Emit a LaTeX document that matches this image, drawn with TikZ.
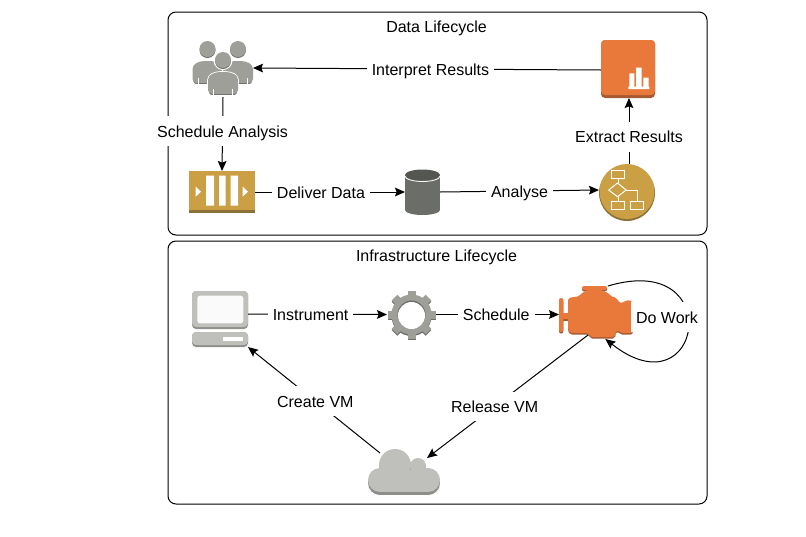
\documentclass[tikz,border=0pt]{standalone}
\usepackage{fontspec}
\setmainfont{Liberation Sans}
\usetikzlibrary{arrows.meta}
\definecolor{awsOrange}{HTML}{E8793A}
\definecolor{awsOrangeDark}{HTML}{A55A30}
\definecolor{awsGold}{HTML}{CBA045}
\definecolor{awsGoldDark}{HTML}{8C7238}
\definecolor{awsGrey}{HTML}{9F9F9A}
\definecolor{awsGreyDark}{HTML}{6D6E6A}
\definecolor{awsLight}{HTML}{BFC0BB}
\definecolor{awsLightDark}{HTML}{8E8F8B}
\definecolor{awsDisk}{HTML}{6B6D68}
\definecolor{awsDiskTop}{HTML}{545651}
\tikzset{
    flow/.style = {line width = 0.75pt, -{Stealth[length = 7.5pt, width = 6.5pt, inset = 1.2pt]}},
    lbl/.style = {fill = white, inner xsep = 3.75pt, inner ysep = 0pt, minimum height = 22pt, text height = 9pt, text depth = 0pt, font = \fontsize{12}{14}\selectfont},
    icon/.style = {inner sep = 0pt, outer sep = 0pt},
    lifecycle/.style = {draw, line width = 0.75pt, rounded corners = 6pt},
    person/.pic = {
        \fill[white] (0,0.5) circle[radius = 9.5];
        \fill[awsGreyDark] (0,1) circle[radius = 8];
        \fill[awsGrey] (0,0) circle[radius = 8];
        \draw[white, line width = 1.2pt, fill = awsGreyDark, rounded corners = 3pt] (-15,36) -- (-15,16) -- (-7,12) -- (7,12) -- (15,16) -- (15,36) -- cycle;
        \fill[awsGrey, rounded corners = 3pt] (-15,34) -- (-15,16) -- (-7,12) -- (7,12) -- (15,16) -- (15,34) -- cycle;
        \draw[white, line width = 0.75pt] (-9.5,29) -- (-9.5,36) (9.5,29) -- (9.5,36);
    }
}
\begin{document}
\begin{tikzpicture}[x = 0.75pt, y = -0.75pt]
    \useasboundingbox (0,0) rectangle (806,536);
    \draw[lifecycle] (168,12) rectangle (707,235);
    \draw[lifecycle] (168,241) rectangle (707,504);
    \node[lbl, fill = none] (dataTitle) at (436.5,26) {Data Lifecycle};
    \node[lbl, fill = none] (infraTitle) at (436.5,255) {Infrastructure Lifecycle};

    \node[icon, minimum width = 45pt, minimum height = 42pt] (users) at (223,69) {};
    \node[icon, minimum width = 49.5pt, minimum height = 31.5pt] (queue) at (222,192) {};
    \node[icon, minimum width = 26.25pt, minimum height = 34.5pt] (store) at (422.5,192) {};
    \node[icon, minimum width = 42pt, minimum height = 42pt] (workflow) at (627,192) {};
    \node[icon, minimum width = 40.5pt, minimum height = 43.5pt] (report) at (628,69) {};
    \node[icon, minimum width = 42pt, minimum height = 42pt] (computer) at (220,319) {};
    \node[icon, minimum width = 36.75pt, minimum height = 36.75pt] (gear) at (411.5,314.5) {};
    \node[icon, minimum width = 55.5pt, minimum height = 39.75pt] (engine) at (596,312.5) {};
    \node[icon, minimum width = 54pt, minimum height = 35.25pt] (cloud) at (404,471.5) {};

    \pic at (207.5,49) {person};
    \pic at (238,49) {person};
    \pic at (223,60) {person};

    \fill[awsGoldDark] (189,171) rectangle (255,213);
    \fill[awsGold] (189,171) rectangle (255,210);
    \fill[white] (206,175.7) rectangle (214,205.7) (219,175.7) rectangle (225.7,205.7) (230.7,175.7) rectangle (238,205.7);
    \fill[white] (195.7,186.7) -- (201,191.7) -- (195.7,196.7) -- cycle (242.7,186.7) -- (248,191.7) -- (242.7,196.7) -- cycle;

    \fill[awsDisk] (405,175) rectangle (440,210);
    \fill[awsDisk] (422.5,210) ellipse[x radius = 17.5, y radius = 5];
    \fill[awsDiskTop] (422.5,175) ellipse[x radius = 17.5, y radius = 5.5];
    \draw[white, line width = 0.6pt] (405,176) arc[start angle = 180, end angle = 360, x radius = 17.5, y radius = -5.5];

    \fill[awsGoldDark] (627,193) circle[radius = 28];
    \fill[awsGold] (627,191.5) circle[radius = 27.5];
    \begin{scope}[line width = 0.75pt]
        \draw[white] (611.7,170.7) rectangle (624.3,178.3) (611.7,201.7) rectangle (624.3,209.3) (630.7,201.7) rectangle (643.3,209.3);
        \draw[white] (608.7,190) -- (617.5,183) -- (626.2,190) -- (617.5,196.7) -- cycle;
        \draw[white] (618,178.3) -- (618,183) (618,196.7) -- (618,201.7) (626.2,190) -- (637,190) -- (637,201.7);
    \end{scope}

    \fill[awsOrangeDark, rounded corners = 3pt] (601,40) rectangle (655,98);
    \fill[awsOrange, rounded corners = 3pt] (601,40) rectangle (655,95);
    \fill[white] (628.3,86.7) rectangle (649.3,89) (629.3,73.3) rectangle (634.3,86.7) (636,67.7) rectangle (641.7,86.7) (643.3,77.7) rectangle (648.7,86.7);

    \fill[awsLightDark, rounded corners = 3pt] (192,291) rectangle (248,329);
    \fill[awsLight, rounded corners = 3pt] (192,291) rectangle (248,327);
    \fill[white!92!awsLight, rounded corners = 2pt] (197.3,295.7) rectangle (243.3,323.3);
    \fill[awsLightDark, rounded corners = 3pt] (192,332) rectangle (248,347);
    \fill[awsLight, rounded corners = 3pt] (192,332) rectangle (248,345);
    \fill[white] (222.7,336.7) rectangle (243.3,340.7);

    \foreach \dy/\col in {1.5/awsGreyDark, 0/awsGrey} {
        \begin{scope}[shift = {(411.5,314.5 + \dy)}]
            \fill[\col] (0,0) circle[radius = 20];
            \foreach \a in {0,45,...,315}
                \fill[\col, rotate = \a] (-4,-24) rectangle (4,-17);
        \end{scope}
    }
    \fill[awsGreyDark] (411.5,314.5) circle[radius = 14];
    \fill[white] (411.5,315.5) circle[radius = 13.5];

    \foreach \dy/\col in {1.5/awsOrangeDark, 0/awsOrange} {
        \begin{scope}[shift = {(0,\dy)}]
            \fill[\col, rounded corners = 1.5pt] (568,298) -- (580,296) -- (582,292) -- (608,292) -- (610,296) -- (617,298) -- (619,303) -- (623,303) -- (626,300) -- (632.7,301) -- (632.7,333) -- (620,333) -- (618,330) -- (616,330) -- (615,337) -- (590,337) -- (589,333) -- (570,333) -- (568,330) -- cycle;
            \fill[\col, rounded corners = 1.5pt] (582,286) rectangle (607,290);
            \fill[\col] (587,289) rectangle (602,293);
            \fill[\col, rounded corners = 1.5pt] (559,298) rectangle (563.3,332);
            \fill[\col] (563,312.7) rectangle (569,319);
        \end{scope}
    }

    \foreach \dy/\col in {3/awsLightDark, 0/awsLight} {
        \begin{scope}[shift = {(0,\dy)}]
            \fill[\col] (395,465) circle[radius = 16];
            \fill[\col] (418,466) circle[radius = 8];
            \fill[\col] (380,480) circle[radius = 12];
            \fill[\col] (428,480) circle[radius = 12];
            \fill[\col] (380,470) rectangle (428,492);
        \end{scope}
    }

    \draw[flow] (users.south) -- node[lbl, pos = 0.46] (scheduleAnalysis) {Schedule Analysis} (queue.north);
    \draw[flow] (queue.east) -- node[lbl, pos = 0.44] (deliverData) {Deliver Data} (store.west);
    \draw[flow] (store.east) -- node[lbl, pos = 0.5] (analyse) {Analyse} ([yshift = 1.5pt]workflow.west);
    \draw[flow] ([xshift = 1.5pt]workflow.north) -- node[lbl, pos = 0.41] (extractResults) {Extract Results} ([xshift = 0.75pt]report.south);
    \draw[flow] ([yshift = -0.75pt]report.west) -- node[lbl, pos = 0.49] (interpretResults) {Interpret Results} ([yshift = 0.75pt]users.east);
    \draw[flow] ([yshift = 3.75pt]computer.east) -- node[lbl, pos = 0.45] (instrument) {Instrument} (gear.west);
    \draw[flow] (gear.east) -- node[lbl, pos = 0.49] (schedule) {Schedule} ([yshift = -1.5pt]engine.west);
    \draw[flow] ([xshift = 9pt]engine.north) .. controls (728,250) and (702,415) .. ([xshift = 7pt]engine.south);
    \node[lbl] (doWork) at (667,317) {Do Work};
    \draw[flow] ([xshift = -6pt, yshift = 3pt]engine.south) -- node[lbl, pos = 0.58] (releaseVM) {Release VM} ([xshift = 17.25pt, yshift = -7.5pt]cloud.north);
    \draw[flow] ([xshift = -18pt, yshift = -3.75pt]cloud.north) -- node[lbl, pos = 0.49] (createVM) {Create VM} (computer.south east);
\end{tikzpicture}
\end{document}
